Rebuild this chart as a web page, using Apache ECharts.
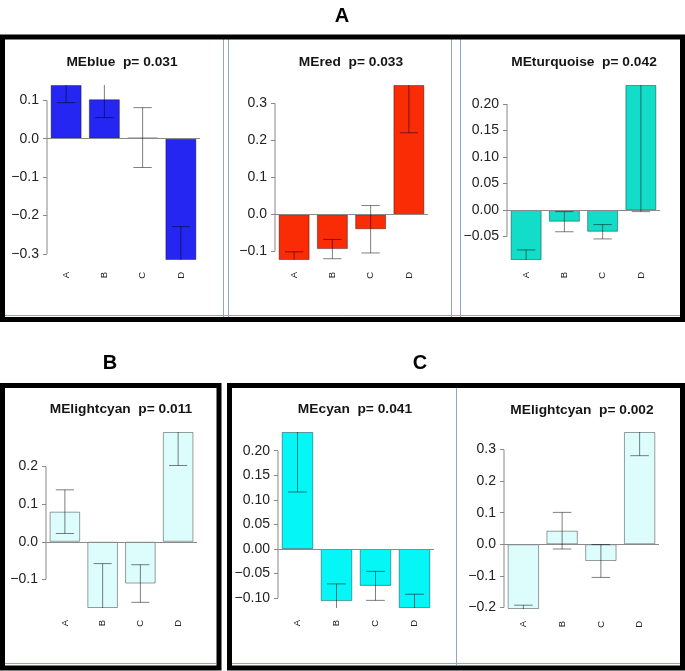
<!DOCTYPE html>
<html>
<head>
<meta charset="utf-8">
<script src="https://cdn.jsdelivr.net/npm/echarts@6/dist/echarts.min.js"></script>
<style>
html,body{margin:0;padding:0;background:#fff;}
#chart{width:685px;height:671px;}
</style>
</head>
<body>
<div id="chart"></div>
<script>
// ---------------- data ----------------
const categories = ['A', 'B', 'C', 'D'];
const panelTitles = ['MEblue  p= 0.031', 'MEred  p= 0.033', 'MEturquoise  p= 0.042',
                     'MElightcyan  p= 0.011', 'MEcyan  p= 0.041', 'MElightcyan  p= 0.002'];
const panelLetters = ['A', 'B', 'C'];

const blueMeans = [0.140, 0.103, 0.003, -0.316];
const blueSE = [0.046, 0.048, 0.078, 0.087];
const blueTicks = [-0.3, -0.2, -0.1, 0, 0.1];

const redMeans = [-0.1235, -0.094, -0.0405, 0.349];
const redSE = [0.022, 0.026, 0.064, 0.129];
const redTicks = [-0.1, 0, 0.1, 0.2, 0.3];

const turquoiseMeans = [-0.0943, -0.022, -0.041, 0.236];
const turquoiseSE = [0.019, 0.019, 0.0135, 0.239];
const turquoiseTicks = [-0.05, 0, 0.05, 0.10, 0.15, 0.20];

const lightcyan1Means = [0.080, -0.176, -0.111, 0.2917];
const lightcyan1SE = [0.058, 0.118, 0.050, 0.089];
const lightcyan1Ticks = [-0.1, 0, 0.1, 0.2];

const cyanMeans = [0.238, -0.106, -0.075, -0.120];
const cyanSE = [0.122, 0.035, 0.0295, 0.028];
const cyanTicks = [-0.10, -0.05, 0, 0.05, 0.10, 0.15, 0.20];

const lightcyan2Means = [-0.205, 0.043, -0.053, 0.3556];
const lightcyan2SE = [0.012, 0.058, 0.052, 0.075];
const lightcyan2Ticks = [-0.2, -0.1, 0, 0.1, 0.2, 0.3];

// ---------------- layout / style ----------------
const panels = [
  {means: blueMeans, se: blueSE, ticks: blueTicks, dec: 1, color: '#2626F2',
   grid: {left: 47, top: 85, width: 153, height: 175}, title: [122, 63]},
  {means: redMeans, se: redSE, ticks: redTicks, dec: 1, color: '#FA2C05',
   grid: {left: 275, top: 85, width: 153, height: 175}, title: [351, 63]},
  {means: turquoiseMeans, se: turquoiseSE, ticks: turquoiseTicks, dec: 2, color: '#12DDC9',
   grid: {left: 507, top: 85, width: 153, height: 175}, title: [584, 63]},
  {means: lightcyan1Means, se: lightcyan1SE, ticks: lightcyan1Ticks, dec: 1, color: '#DDFCFC',
   grid: {left: 46, top: 432, width: 151, height: 176}, title: [121, 410]},
  {means: cyanMeans, se: cyanSE, ticks: cyanTicks, dec: 2, color: '#04F6F6',
   grid: {left: 278, top: 432, width: 156, height: 176}, title: [355, 410]},
  {means: lightcyan2Means, se: lightcyan2SE, ticks: lightcyan2Ticks, dec: 1, color: '#DDFCFC',
   grid: {left: 504, top: 432, width: 155, height: 177}, title: [582, 411]}
];

const FONT = '"Liberation Sans", Arial, Helvetica, sans-serif';
const grids = [], xAxes = [], yAxes = [], series = [];

function fmt(v, dec) {
  return v.toFixed(dec).replace('-', '\u2212');
}

panels.forEach((p, i) => {
  grids.push(Object.assign({containLabel: false}, p.grid));
  xAxes.push({
    type: 'category', gridIndex: i, data: categories,
    axisLine: {show: false, onZero: false},
    axisTick: {show: false},
    axisLabel: {rotate: 90, fontSize: 9.5, color: '#222', margin: 12, fontFamily: FONT}
  });
  const lo = Math.min.apply(null, p.means), hi = Math.max.apply(null, p.means);
  yAxes.push({
    type: 'value', gridIndex: i, min: lo, max: hi,
    splitLine: {show: false},
    axisLine: {show: false},
    axisTick: {show: true, length: 4, lineStyle: {color: '#888'}, customValues: p.ticks},
    axisLabel: {show: true, customValues: p.ticks, margin: 8, fontSize: 14, color: '#222',
                fontFamily: FONT, formatter: (v) => fmt(v, p.dec)}
  });
  // bars
  series.push({
    type: 'bar', xAxisIndex: i, yAxisIndex: i, data: p.means,
    barWidth: '81%',
    itemStyle: {color: p.color, borderColor: 'rgba(0,0,0,0.38)', borderWidth: 1},
    markLine: {
      silent: true, symbol: 'none', label: {show: false}, animation: false,
      lineStyle: {type: 'solid', color: '#8a8a8a', width: 1},
      data: [{yAxis: 0}]
    }
  });
  // error bars (clipped to plot region like R)
  series.push({
    type: 'custom', xAxisIndex: i, yAxisIndex: i,
    data: categories.map((c, k) => [k, p.means[k], p.se[k]]),
    encode: {x: 0, y: 1},
    z: 5,
    renderItem: function (params, api) {
      const idx = api.value(0), m = api.value(1), s = api.value(2);
      const cs = params.coordSys;
      const x = api.coord([idx, m])[0];
      const yT = api.coord([idx, m + s])[1];
      const yB = api.coord([idx, m - s])[1];
      const top = cs.y, bot = cs.y + cs.height;
      const half = api.size([1, 0])[0] * 0.24;
      const clamp = (v) => Math.max(top, Math.min(bot, v));
      const st = {stroke: 'rgba(0,0,0,0.5)', lineWidth: 1};
      const ch = [{type: 'line', shape: {x1: x, y1: clamp(yT), x2: x, y2: clamp(yB)}, style: st}];
      if (yT >= top - 0.5) ch.push({type: 'line', shape: {x1: x - half, y1: yT, x2: x + half, y2: yT}, style: st});
      if (yB <= bot + 0.5) ch.push({type: 'line', shape: {x1: x - half, y1: yB, x2: x + half, y2: yB}, style: st});
      return {type: 'group', children: ch};
    }
  });
  // R-style y axis line from lowest to highest tick
  series.push({
    type: 'custom', xAxisIndex: i, yAxisIndex: i,
    data: [[0, 0]], encode: {x: 0, y: 1}, silent: true,
    renderItem: function (params, api) {
      const cs = params.coordSys;
      const y1 = api.coord([0, p.ticks[0]])[1];
      const y2 = api.coord([0, p.ticks[p.ticks.length - 1]])[1];
      return {type: 'line', shape: {x1: cs.x, y1: y1, x2: cs.x, y2: y2},
              style: {stroke: '#888', lineWidth: 1}};
    }
  });
});

// ---------------- decorations: frames, titles, panel letters ----------------
const graphics = [];
const frameLines = [
  [223.5, 39, 223.5, 317], [228.5, 39, 228.5, 317],
  [451.5, 39, 451.5, 317], [460.5, 39, 460.5, 317],
  [5, 315.5, 680, 315.5], [5, 663.5, 216, 663.5], [232, 663.5, 680, 663.5],
  [456.5, 388, 456.5, 665]
];
frameLines.forEach(l => graphics.push({
  type: 'line', shape: {x1: l[0], y1: l[1], x2: l[2], y2: l[3]},
  style: {stroke: '#8DA8CF', lineWidth: 1}, silent: true
}));
[[2.5, 37, 680, 282.5], [2.5, 385.5, 216.5, 282.5], [229.5, 385.5, 453, 282.5]].forEach(r => graphics.push({
  type: 'rect', shape: {x: r[0], y: r[1], width: r[2], height: r[3]},
  style: {stroke: '#000', lineWidth: 5, fill: null}, silent: true
}));
panels.forEach((p, i) => graphics.push({
  type: 'text', x: p.title[0], y: p.title[1], scaleX: 1.1,
  style: {text: panelTitles[i], font: 'bold 12.5px ' + FONT, fill: '#151515',
          textAlign: 'center', textVerticalAlign: 'middle', align: 'center', verticalAlign: 'middle'}
}));
[[342, 16], [110, 363], [420, 363]].forEach((pos, i) => graphics.push({
  type: 'text', x: pos[0], y: pos[1],
  style: {text: panelLetters[i], font: 'bold 20px ' + FONT, fill: '#000',
          textAlign: 'center', textVerticalAlign: 'middle', align: 'center', verticalAlign: 'middle'}
}));

const chart = echarts.init(document.getElementById('chart'), null, {renderer: 'canvas'});
chart.setOption({
  animation: false,
  backgroundColor: '#fff',
  grid: grids, xAxis: xAxes, yAxis: yAxes, series: series,
  graphic: {elements: graphics}
});
</script>
</body>
</html>
